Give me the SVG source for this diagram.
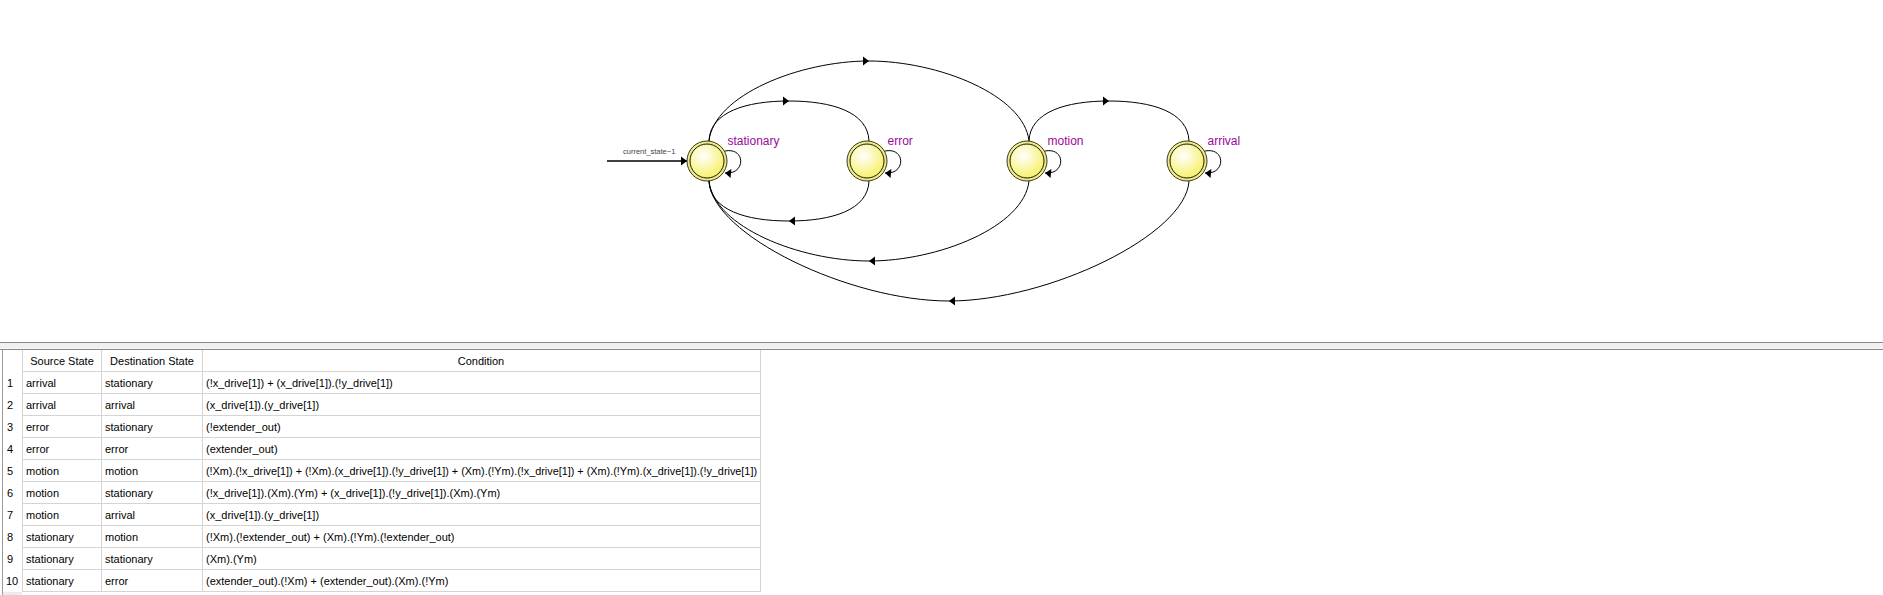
<svg xmlns="http://www.w3.org/2000/svg" width="1883" height="595" viewBox="0 0 1883 595">
<style>
.edge{fill:none;stroke:#000;stroke-width:1}
.ring{fill:#f0ea86;stroke:#3a3a20;stroke-width:1}
.core{fill:url(#yg);stroke:#1a1a10;stroke-width:1}
.lbl{font-family:"Liberation Sans",Arial,sans-serif;font-size:12px;fill:#9a0a9a}
.init{font-family:"Liberation Sans",Arial,sans-serif;font-size:7.5px;fill:#444}
.t{font-family:"Liberation Sans",Arial,sans-serif;font-size:11px;fill:#000}
.h{font-family:"Liberation Sans",Arial,sans-serif;font-size:11px;fill:#000;text-anchor:middle}
.grid{stroke:#d4d4d4;stroke-width:1;fill:none}
</style>
<defs>
<radialGradient id="yg" cx="0.4" cy="0.35" r="0.7">
<stop offset="0" stop-color="#ffffff"/>
<stop offset="1" stop-color="#f7f062"/>
</radialGradient>
<marker id="ah" viewBox="-7 -5 8 10" refX="0" refY="0" markerWidth="8" markerHeight="10" markerUnits="userSpaceOnUse" orient="auto" overflow="visible">
<path d="M-6,-4.5 L0,0 L-6,4.5 z" fill="#000"/>
</marker>
</defs>
<rect width="1883" height="595" fill="#fff"/>

<g id="connectors">
<path class="edge" d="M607,161 L687,161" style="stroke-width:1.4" marker-end="url(#ah)"/>
<path class="edge" d="M709,141 C710,112 746,101 789,101 C832,101 868,112 869,141" marker-mid="url(#ah)"/>
<path class="edge" d="M709,141 C714,95 800,61 869,61 C938,61 1024,95 1029,141" marker-mid="url(#ah)"/>
<path class="edge" d="M1029,141 C1030,112 1066,101 1109,101 C1152,101 1188,112 1189,141" marker-mid="url(#ah)"/>
<path class="edge" d="M869,181 C868,210 832,221 789,221 C746,221 710,210 709,181" marker-mid="url(#ah)"/>
<path class="edge" d="M1029,181 C1024,227 938,261 869,261 C800,261 714,227 709,181" marker-mid="url(#ah)"/>
<path class="edge" d="M1189,181 C1186,235 1048,301 949,301 C850,301 712,235 709,181" marker-mid="url(#ah)"/>
<path class="edge" d="M725,151 C746,147 746,175 725,173" marker-end="url(#ah)"/>
<path class="edge" d="M885,151 C906,147 906,175 885,173" marker-end="url(#ah)"/>
<path class="edge" d="M1045,151 C1066,147 1066,175 1045,173" marker-end="url(#ah)"/>
<path class="edge" d="M1205,151 C1226,147 1226,175 1205,173" marker-end="url(#ah)"/>
<text class="init" x="623" y="154">current_state~1</text>
</g>

<g id="state-stationary">
<circle class="ring" cx="707" cy="161" r="20"/>
<circle class="core" cx="707" cy="161" r="17"/>
<text class="lbl" x="727.5" y="145">stationary</text>
</g>
<g id="state-error">
<circle class="ring" cx="867" cy="161" r="20"/>
<circle class="core" cx="867" cy="161" r="17"/>
<text class="lbl" x="887.5" y="145">error</text>
</g>
<g id="state-motion">
<circle class="ring" cx="1027" cy="161" r="20"/>
<circle class="core" cx="1027" cy="161" r="17"/>
<text class="lbl" x="1047.5" y="145">motion</text>
</g>
<g id="state-arrival">
<circle class="ring" cx="1187" cy="161" r="20"/>
<circle class="core" cx="1187" cy="161" r="17"/>
<text class="lbl" x="1207.5" y="145">arrival</text>
</g>

<g id="table">
<rect x="0" y="342.5" width="1883" height="6" fill="#f0f0f0"/>
<line x1="0" y1="342.5" x2="1883" y2="342.5" stroke="#8a8a8a" stroke-width="1"/>
<line x1="0" y1="349.5" x2="1883" y2="349.5" stroke="#8a8a8a" stroke-width="1"/>
<line x1="2.5" y1="349.5" x2="2.5" y2="595" stroke="#9a9a9a" stroke-width="1"/>
<rect x="3" y="592" width="19" height="3" fill="#ececec"/>
<path class="grid" d="M22.5,350 V591.5 M101.5,350 V591.5 M202.5,350 V591.5 M760.5,350 V591.5
M22,371.5 H761 M22,393.5 H761 M22,415.5 H761 M22,437.5 H761 M22,459.5 H761 M22,481.5 H761 M22,503.5 H761 M22,525.5 H761 M22,547.5 H761 M22,569.5 H761 M22,591.5 H761"/>
<text class="h" x="62" y="364.5">Source State</text>
<text class="h" x="152" y="364.5">Destination State</text>
<text class="h" x="481" y="364.5">Condition</text>

<text class="t" x="7" y="386.5">1</text><text class="t" x="26" y="386.5">arrival</text><text class="t" x="105" y="386.5">stationary</text><text class="t" x="206" y="386.5">(!x_drive[1]) + (x_drive[1]).(!y_drive[1])</text>
<text class="t" x="7" y="408.5">2</text><text class="t" x="26" y="408.5">arrival</text><text class="t" x="105" y="408.5">arrival</text><text class="t" x="206" y="408.5">(x_drive[1]).(y_drive[1])</text>
<text class="t" x="7" y="430.5">3</text><text class="t" x="26" y="430.5">error</text><text class="t" x="105" y="430.5">stationary</text><text class="t" x="206" y="430.5">(!extender_out)</text>
<text class="t" x="7" y="452.5">4</text><text class="t" x="26" y="452.5">error</text><text class="t" x="105" y="452.5">error</text><text class="t" x="206" y="452.5">(extender_out)</text>
<text class="t" x="7" y="474.5">5</text><text class="t" x="26" y="474.5">motion</text><text class="t" x="105" y="474.5">motion</text><text class="t" x="206" y="474.5" textLength="551" lengthAdjust="spacingAndGlyphs">(!Xm).(!x_drive[1]) + (!Xm).(x_drive[1]).(!y_drive[1]) + (Xm).(!Ym).(!x_drive[1]) + (Xm).(!Ym).(x_drive[1]).(!y_drive[1])</text>
<text class="t" x="7" y="496.5">6</text><text class="t" x="26" y="496.5">motion</text><text class="t" x="105" y="496.5">stationary</text><text class="t" x="206" y="496.5">(!x_drive[1]).(Xm).(Ym) + (x_drive[1]).(!y_drive[1]).(Xm).(Ym)</text>
<text class="t" x="7" y="518.5">7</text><text class="t" x="26" y="518.5">motion</text><text class="t" x="105" y="518.5">arrival</text><text class="t" x="206" y="518.5">(x_drive[1]).(y_drive[1])</text>
<text class="t" x="7" y="540.5">8</text><text class="t" x="26" y="540.5">stationary</text><text class="t" x="105" y="540.5">motion</text><text class="t" x="206" y="540.5">(!Xm).(!extender_out) + (Xm).(!Ym).(!extender_out)</text>
<text class="t" x="7" y="562.5">9</text><text class="t" x="26" y="562.5">stationary</text><text class="t" x="105" y="562.5">stationary</text><text class="t" x="206" y="562.5">(Xm).(Ym)</text>
<text class="t" x="6" y="584.5">10</text><text class="t" x="26" y="584.5">stationary</text><text class="t" x="105" y="584.5">error</text><text class="t" x="206" y="584.5">(extender_out).(!Xm) + (extender_out).(Xm).(!Ym)</text>
</g>
</svg>
